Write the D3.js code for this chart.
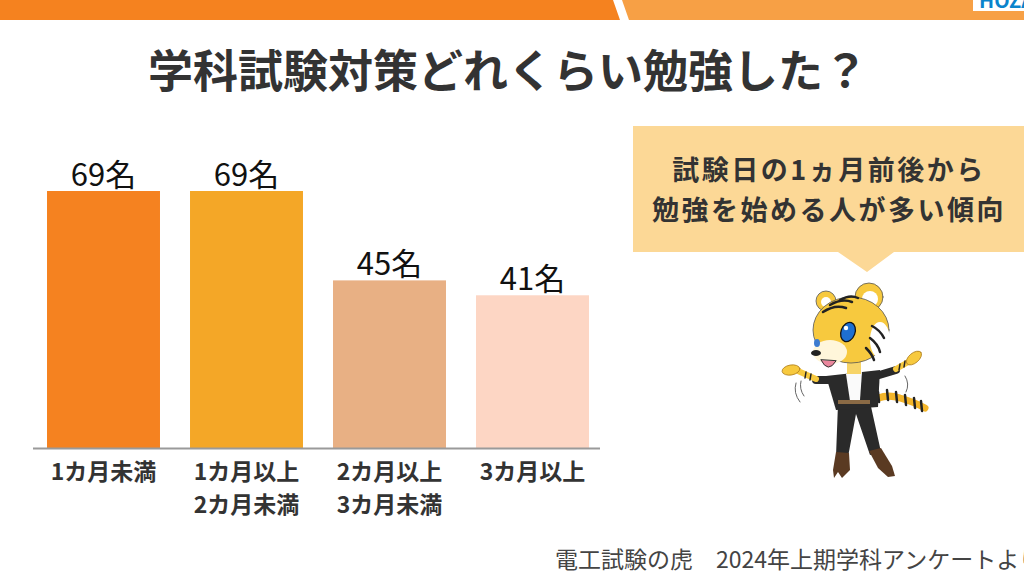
<!DOCTYPE html>
<html>
<head>
<meta charset="utf-8">
<script src="https://cdn.jsdelivr.net/npm/d3@7"></script>
<style>
  html, body { margin: 0; padding: 0; background: #fff; overflow: hidden; }
  svg { display: block; font-family: "Noto Sans CJK JP", "Noto Sans", sans-serif; }
</style>
</head>
<body>
<script>
// chart data
const categories = ["1カ月未満", "1カ月以上\n2カ月未満", "2カ月以上\n3カ月未満", "3カ月以上"];
const counts = [69, 69, 45, 41];
const barColors = ["#F58220", "#F4A727", "#E8B084", "#FDD6C4"];
const unit = "名";

const titleText = "学科試験対策どれくらい勉強した？";
const calloutLines = ["試験日の1ヵ月前後から", "勉強を始める人が多い傾向"];
const footerText = "電工試験の虎　2024年上期学科アンケートより";

const width = 1024, height = 576;

const svg = d3.select("body").append("svg")
    .attr("width", width)
    .attr("height", height);

//////////// HEADER BAND ////////////
svg.append("path")
    .attr("d", "M0,0 L613,0 L620,20 L0,20 Z")
    .attr("fill", "#F5821F");
svg.append("path")
    .attr("d", "M622,0 L1024,0 L1024,20 L629,20 Z")
    .attr("fill", "#F7A045");
svg.append("rect")
    .attr("x", 973).attr("y", 0)
    .attr("width", 51).attr("height", 11)
    .attr("fill", "#fff");
// logo, only its lower edge shows in the slide
svg.append("text")
    .attr("x", 979).attr("y", 8)
    .attr("font-size", 20).attr("font-weight", 700)
    .attr("fill", "#0A84CC")
    .text("HOZAN");

// title
svg.append("text")
    .attr("x", 508).attr("y", 88)
    .attr("text-anchor", "middle")
    .attr("font-size", 45).attr("font-weight", 700)
    .attr("fill", "#333")
    .text(titleText);

//////////// BARS ////////////
const x = d3.scaleBand()
    .domain(categories)
    .range([32, 604])
    .paddingInner(0.21)
    .paddingOuter(0.105);

const y = d3.scaleLinear()
    .domain([0, 69])
    .range([448, 191]);

const bars = svg.append("g");
bars.selectAll("rect")
    .data(categories)
    .join("rect")
    .attr("x", d => x(d))
    .attr("y", (d, i) => y(counts[i]))
    .attr("width", x.bandwidth())
    .attr("height", (d, i) => y(0) - y(counts[i]))
    .attr("fill", (d, i) => barColors[i]);

// value labels
bars.selectAll("text")
    .data(categories)
    .join("text")
    .attr("x", d => x(d) + x.bandwidth() / 2)
    .attr("y", (d, i) => y(counts[i]) - 5)
    .attr("text-anchor", "middle")
    .attr("font-size", 31)
    .attr("fill", "#111")
    .text((d, i) => counts[i] + unit);

// x axis (baseline + category labels)
const xAxis = svg.append("g")
    .attr("transform", `translate(0,${y(0)})`)
    .call(d3.axisBottom(x).tickSize(0).tickFormat(""));
xAxis.select(".domain")
    .attr("d", "M33,0.5H600")
    .attr("stroke", "#9a9a9a")
    .attr("stroke-width", 2);

xAxis.selectAll(".tick").each(function (d) {
    const t = d3.select(this).select("text")
        .attr("y", 0)
        .attr("dy", null)
        .attr("font-size", 23)
        .attr("font-weight", 700)
        .attr("fill", "#333")
        .attr("font-family", "\"Noto Sans CJK JP\", sans-serif");
    d.split("\n").forEach((line, i) => {
        t.append("tspan")
            .attr("x", 0)
            .attr("y", 32 + i * 33)
            .text(line);
    });
});

//////////// CALLOUT ////////////
svg.append("path")
    .attr("d", "M633,126 L1024,126 L1024,252 L894,252 L867,272 L838,252 L633,252 Z")
    .attr("fill", "#FCD896");

svg.append("g").selectAll("text")
    .data(calloutLines)
    .join("text")
    .attr("x", 829)
    .attr("y", (d, i) => 180 + i * 40)
    .attr("text-anchor", "middle")
    .attr("font-size", 27).attr("font-weight", 700)
    .attr("letter-spacing", 2.5)
    .attr("fill", "#333")
    .text(d => d);

//////////// TIGER (simplified drawing) ////////////
const tiger = svg.append("g")
    .attr("stroke-linecap", "round")
    .attr("stroke-linejoin", "round");
const fur = "#F7C93E", ink = "#2a2a2a";

// tail
tiger.append("path")
    .attr("d", "M868,404 C878,396 888,394 900,398 C910,401 918,404 925,408")
    .attr("fill", "none").attr("stroke", "#F3B52A").attr("stroke-width", 7);
[878, 887, 896, 905, 914, 921].forEach((cx, i) => {
    const cy = [397, 395, 397, 400, 403, 406][i];
    tiger.append("line")
        .attr("x1", cx).attr("y1", cy - 5).attr("x2", cx + 1).attr("y2", cy + 5)
        .attr("stroke", "#222").attr("stroke-width", 2.5);
});

// legs
tiger.append("path")
    .attr("d", "M838,404 L836,456 L848,457 L856,414 L870,455 L881,452 L870,402 Z")
    .attr("fill", ink);
// boots
tiger.append("path")
    .attr("d", "M836,452 L849,453 L850,470 L842,478 L838,472 L834,478 L833,470 Z")
    .attr("fill", "#5a3a22");
tiger.append("path")
    .attr("d", "M869,451 L881,448 L892,466 L895,476 L888,477 L878,468 Z")
    .attr("fill", "#5a3a22");

// arms: jacket sleeves then striped forearms
tiger.append("path")
    .attr("d", "M832,380 L816,380")
    .attr("fill", "none").attr("stroke", ink).attr("stroke-width", 8);
tiger.append("path")
    .attr("d", "M816,379 L798,371")
    .attr("fill", "none").attr("stroke", fur).attr("stroke-width", 6);
tiger.append("path")
    .attr("d", "M876,376 L896,370")
    .attr("fill", "none").attr("stroke", ink).attr("stroke-width", 8);
tiger.append("path")
    .attr("d", "M896,369 L910,361")
    .attr("fill", "none").attr("stroke", fur).attr("stroke-width", 6);
[[806, 375], [811, 377], [900, 367], [905, 364]].forEach(p => {
    tiger.append("line")
        .attr("x1", p[0]).attr("y1", p[1] - 3).attr("x2", p[0] - 1).attr("y2", p[1] + 3)
        .attr("stroke", "#222").attr("stroke-width", 1.5);
});
// hands
tiger.append("ellipse").attr("cx", 791).attr("cy", 370).attr("rx", 9).attr("ry", 5)
    .attr("transform", "rotate(-10,791,370)").attr("fill", fur).attr("stroke", "#b08020").attr("stroke-width", 0.8);
tiger.append("ellipse").attr("cx", 914).attr("cy", 358).attr("rx", 9).attr("ry", 5)
    .attr("transform", "rotate(-40,914,358)").attr("fill", fur).attr("stroke", "#b08020").attr("stroke-width", 0.8);

// jacket
tiger.append("path")
    .attr("d", "M826,376 L880,370 L878,407 L836,410 Z")
    .attr("fill", ink);
tiger.append("path")
    .attr("d", "M846,374 L862,372 L860,400 L850,401 Z")
    .attr("fill", "#fafafa");
tiger.append("rect").attr("x", 838).attr("y", 400).attr("width", 32).attr("height", 4)
    .attr("fill", "#8a6a45");

// neck
tiger.append("rect").attr("x", 847).attr("y", 358).attr("width", 14).attr("height", 16)
    .attr("fill", "#F7D468");

// ears
tiger.append("circle").attr("cx", 826).attr("cy", 301).attr("r", 10)
    .attr("fill", fur).attr("stroke", "#555").attr("stroke-width", 0.8);
tiger.append("circle").attr("cx", 826).attr("cy", 302).attr("r", 5).attr("fill", "#fff");
tiger.append("circle").attr("cx", 869).attr("cy", 297).attr("r", 14)
    .attr("fill", fur).attr("stroke", "#555").attr("stroke-width", 0.8);
tiger.append("circle").attr("cx", 870).attr("cy", 299).attr("r", 8).attr("fill", "#fff");

// head
tiger.append("ellipse").attr("cx", 851).attr("cy", 330).attr("rx", 38).attr("ry", 33)
    .attr("fill", fur).attr("stroke", "#555").attr("stroke-width", 0.8);
tiger.append("ellipse").attr("cx", 880).attr("cy", 340).attr("rx", 10).attr("ry", 18)
    .attr("fill", "#fff");
tiger.append("ellipse").attr("cx", 830).attr("cy", 352).attr("rx", 17).attr("ry", 12)
    .attr("fill", "#FFF6DA");
// stripes
["M823,312 Q835,304 846,308", "M830,305 Q842,298 852,302", "M840,300 Q850,294 858,298",
 "M872,326 Q880,330 884,338", "M870,338 Q878,344 880,352", "M866,348 Q872,354 874,360"]
    .forEach(d => tiger.append("path").attr("d", d)
        .attr("stroke", "#222").attr("stroke-width", 2.5).attr("fill", "none"));
// eye
tiger.append("ellipse").attr("cx", 848).attr("cy", 332).attr("rx", 7).attr("ry", 10)
    .attr("transform", "rotate(20,848,332)")
    .attr("fill", "#1E6FD0").attr("stroke", "#111").attr("stroke-width", 1.3);
tiger.append("circle").attr("cx", 846).attr("cy", 328).attr("r", 2.2).attr("fill", "#fff");
tiger.append("ellipse").attr("cx", 817).attr("cy", 343).attr("rx", 3).attr("ry", 4)
    .attr("fill", "#3d7bd0");
// nose & mouth
tiger.append("ellipse").attr("cx", 816).attr("cy", 353).attr("rx", 5).attr("ry", 3).attr("fill", "#222");
tiger.append("path")
    .attr("d", "M821,360 Q828,374 836,361 Z")
    .attr("fill", "#E9869C").attr("stroke", "#333").attr("stroke-width", 1);

// motion marks
tiger.append("path").attr("d", "M796,383 Q793,393 800,402")
    .attr("fill", "none").attr("stroke", "#666").attr("stroke-width", 1);
tiger.append("path").attr("d", "M801,381 Q799,389 804,396")
    .attr("fill", "none").attr("stroke", "#666").attr("stroke-width", 1);
tiger.append("path").attr("d", "M905,376 Q910,384 906,392")
    .attr("fill", "none").attr("stroke", "#666").attr("stroke-width", 1);

//////////// FOOTER ////////////
svg.append("text")
    .attr("x", 555).attr("y", 568)
    .attr("font-size", 23)
    .attr("fill", "#444")
    .text(footerText);
</script>
</body>
</html>
